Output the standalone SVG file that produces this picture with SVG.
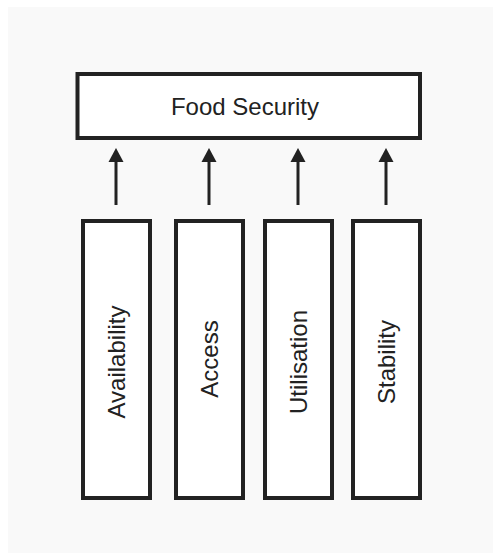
<svg xmlns="http://www.w3.org/2000/svg" width="493" height="553" viewBox="0 0 493 553">
<style>
.box{fill:#ffffff;stroke:#222222;stroke-width:4}
.lbl{font-family:"Liberation Sans",Arial,sans-serif;font-size:24px;fill:#222222;text-anchor:middle}
.conn{stroke:#222222;stroke-width:3;fill:none}
.head{fill:#222222}
</style>
<rect x="0" y="0" width="493" height="553" fill="#ffffff"/>
<rect x="8" y="7" width="485" height="546" fill="#f9f9f9"/>
<g id="food-security">
<rect class="box" x="77.5" y="74" width="342.5" height="64"/>
<text class="lbl" x="245" y="115">Food Security</text>
</g>
<g id="availability">
<rect class="box" x="83" y="221" width="67" height="277"/>
<text class="lbl" transform="translate(125,362) rotate(-90)">Availability</text>
</g>
<g id="access">
<rect class="box" x="176" y="221" width="67" height="277"/>
<text class="lbl" transform="translate(218,359) rotate(-90)">Access</text>
</g>
<g id="utilisation">
<rect class="box" x="265" y="221" width="67" height="277"/>
<text class="lbl" transform="translate(307,362) rotate(-90)">Utilisation</text>
</g>
<g id="stability">
<rect class="box" x="353" y="221" width="67" height="277"/>
<text class="lbl" transform="translate(394.5,362) rotate(-90)">Stability</text>
</g>
<g id="connectors">
<line class="conn" x1="116" y1="205" x2="116" y2="160"/>
<polygon class="head" points="116,148 108.5,162 123.5,162"/>
<line class="conn" x1="209" y1="205" x2="209" y2="160"/>
<polygon class="head" points="209,148 201.5,162 216.5,162"/>
<line class="conn" x1="298" y1="205" x2="298" y2="160"/>
<polygon class="head" points="298,148 290.5,162 305.5,162"/>
<line class="conn" x1="386" y1="205" x2="386" y2="160"/>
<polygon class="head" points="386,148 378.5,162 393.5,162"/>
</g>
</svg>
